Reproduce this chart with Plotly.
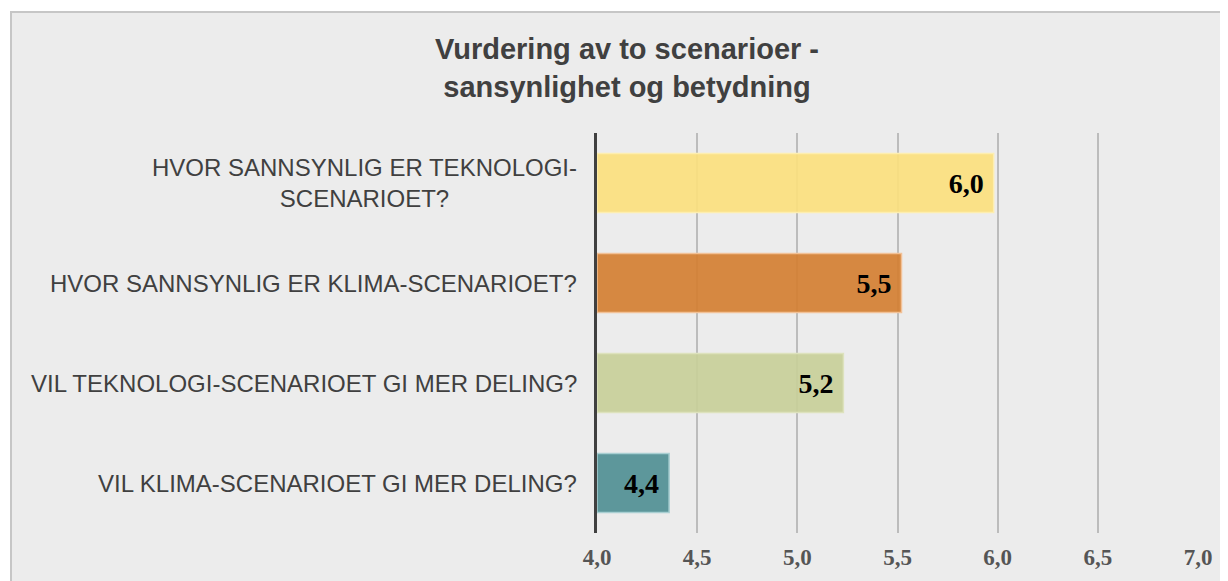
import plotly.graph_objects as go

categories = [
    "HVOR SANNSYNLIG ER TEKNOLOGI-<br>SCENARIOET?",
    "HVOR SANNSYNLIG ER KLIMA-SCENARIOET?",
    "VIL TEKNOLOGI-SCENARIOET GI MER DELING?",
    "VIL KLIMA-SCENARIOET GI MER DELING?",
]
values = [5.98, 5.52, 5.23, 4.36]
value_labels = ["6,0", "5,5", "5,2", "4,4"]
bar_colors = ["rgba(251,224,126,0.92)", "rgba(212,127,50,0.92)",
              "rgba(200,207,153,0.92)", "rgba(80,143,148,0.92)"]
bar_edges = ["#fdeeb0", "#f2c197", "#dde2bd", "#a9cfd2"]
tick_vals = [4.0, 4.5, 5.0, 5.5, 6.0, 6.5, 7.0]

# page has an 8px body margin
W, H = 1220, 573
L, R, T, B = 589, 30, 125, 48
pw, ph = W - L - R, H - T - B

fig = go.Figure()
fig.add_trace(go.Bar(
    y=list(range(len(categories))),
    x=[v - 4.0 for v in values],
    base=4.0,
    orientation="h",
    width=0.59,
    marker=dict(color=bar_colors, line=dict(color=bar_edges, width=1.5)),
    text=value_labels,
    texttemplate="%{text}\u00a0",
    textposition="inside",
    insidetextanchor="end",
    textangle=0,
    textfont=dict(family="Liberation Serif", size=28, color="#000000", weight="bold"),
    hoverinfo="skip",
))

for i, c in enumerate(categories):
    fig.add_annotation(
        x=0, xref="paper", xanchor="right", xshift=-18,
        y=i, yref="y", yanchor="middle",
        text=c, showarrow=False, align="center",
        font=dict(family="Liberation Sans", size=24, color="#404040"),
    )

fig.add_shape(
    type="rect", xref="paper", yref="paper", layer="below",
    x0=(3 - L) / pw, x1=(W + 5 - L) / pw,
    y0=-(H + 5 - (T + ph)) / ph, y1=(T + ph - 4) / ph,
    fillcolor="#ececec", line=dict(color="#c6c6c6", width=2),
)

fig.update_layout(
    width=W, height=H,
    margin=dict(l=L, r=R, t=T, b=B, pad=0),
    paper_bgcolor="#ffffff",
    plot_bgcolor="rgba(0,0,0,0)",
    separators=", ",
    showlegend=False,
    title=dict(
        text="Vurdering av to scenarioer -<br>sansynlighet og betydning",
        x=619 / W, xanchor="center", xref="container",
        y=1 - 51 / H, yanchor="middle", yref="container",
        font=dict(family="Liberation Sans", size=29, color="#404040", weight="bold"),
    ),
    xaxis=dict(
        range=[4.0, 7.0], tickvals=tick_vals, tickformat=".1f",
        showgrid=True, gridcolor="#bcbcbc", gridwidth=1.5,
        zeroline=False, showline=False,
        ticks="outside", ticklen=3, tickcolor="rgba(0,0,0,0)",
        tickfont=dict(family="Liberation Serif", size=23, color="#555555", weight="bold"),
        fixedrange=True,
    ),
    yaxis=dict(
        range=[3.5, -0.5], showticklabels=False, showgrid=False,
        zeroline=False, showline=True, linecolor="#404040", linewidth=3,
        fixedrange=True,
    ),
)

fig.write_html("out.html")
